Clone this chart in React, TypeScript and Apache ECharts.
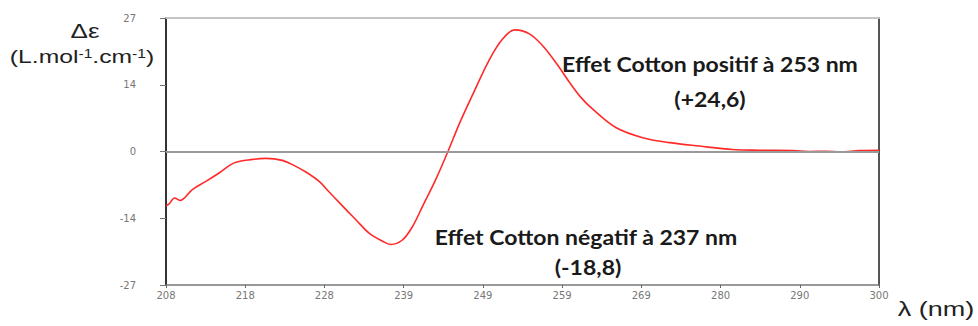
import React, { useEffect, useRef } from "react";
import * as echarts from "echarts";

const wavelengths = [
  208, 208.4, 209.1, 209.8, 211.4, 213.2, 214.9, 216.8, 219.2, 220.9, 223.0,
  224.5, 226.1, 227.8, 229.0, 230.4, 231.5, 232.5, 234.2, 236.0, 237.0, 238.5,
  239.8, 241.1, 242.8, 244.3, 245.9, 247.6, 249.7, 251.4, 253.0, 254.9, 256.6,
  258.3, 260.1, 261.5, 263.1, 266.1, 269.5, 273.0, 276.8, 281.1, 284.6, 288.9,
  291.0, 293.2, 295.0, 297.5, 300,
];
const deltaEpsilon = [
  -11.0, -10.6, -9.4, -9.9, -7.7, -6.0, -4.3, -2.3, -1.6, -1.4, -1.8, -2.8,
  -4.2, -6.1, -8.1, -10.4, -12.2, -13.8, -16.5, -18.2, -18.8, -17.9, -15.2,
  -11.1, -5.7, -0.3, 5.8, 11.6, 18.5, 22.7, 24.6, 23.8, 21.4, 18.0, 13.9, 11.0,
  8.5, 4.8, 2.8, 1.8, 1.1, 0.4, 0.26, 0.2, 0.0, 0.06, -0.1, 0.2, 0.26,
];

const xTickValues = [208, 218.22, 228.44, 238.67, 248.89, 259.11, 269.33, 279.56, 289.78, 300];
const xTickLabels = ["208", "218", "228", "239", "249", "259", "269", "280", "290", "300"];
const yTickValues = [-27, -13.5, 0, 13.5, 27];
const yTickLabels = ["-27", "-14", "0", "14", "27"];

const positiveNote = "Effet Cotton positif à 253 nm";
const positiveValue = "(+24,6)";
const negativeNote = "Effet Cotton négatif à 237 nm";
const negativeValue = "(-18,8)";

function nearestIndex(values: number[], v: number) {
  let best = 0;
  for (let i = 1; i < values.length; i++) {
    if (Math.abs(values[i] - v) < Math.abs(values[best] - v)) best = i;
  }
  return best;
}

export default function App() {
  const ref = useRef<HTMLDivElement>(null);
  useEffect(() => {
    if (!ref.current) return;
    const chart = echarts.init(ref.current, null, { renderer: "svg" });
    const data = wavelengths.map((w, i) => [w, deltaEpsilon[i]]);
    const noteStyle = {
      fontFamily: "Lato",
      fontWeight: "bold" as const,
      fontSize: 20,
      fill: "#1a1a1a",
      align: "center" as const,
      verticalAlign: "middle" as const,
    };
    const labelStyle = {
      fontFamily: "Liberation Sans",
      fontSize: 20,
      fill: "#222",
      align: "center" as const,
      verticalAlign: "middle" as const,
    };
    chart.setOption({
      animation: false,
      backgroundColor: "#fff",
      grid: {
        left: 166,
        right: 99,
        top: 18,
        bottom: 41,
        containLabel: false,
        outerBoundsMode: "none",
      },
      xAxis: [
        {
          type: "value",
          min: 208,
          max: 300,
          axisLine: { show: true, onZero: false, lineStyle: { color: "#777", width: 1.5 } },
          axisTick: {
            show: true,
            length: 3,
            customValues: xTickValues,
            lineStyle: { color: "#666" },
          },
          axisLabel: {
            show: true,
            customValues: xTickValues,
            formatter: (v: number) => xTickLabels[nearestIndex(xTickValues, v)],
            color: "#777",
            fontSize: 10,
            fontFamily: "DejaVu Sans",
            margin: 5,
          },
          splitLine: { show: false },
        },
        {
          type: "value",
          position: "top",
          min: 208,
          max: 300,
          axisLine: { show: true, onZero: false, lineStyle: { color: "#c4c4c4", width: 2 } },
          axisTick: { show: false },
          axisLabel: { show: false },
          splitLine: { show: false },
        },
      ],
      yAxis: [
        {
          type: "value",
          min: -27,
          max: 27,
          interval: 13.5,
          axisLine: { show: true, onZero: false, lineStyle: { color: "#333", width: 2 } },
          axisTick: { show: true, length: 6, lineStyle: { color: "#777" } },
          axisLabel: {
            formatter: (v: number) => yTickLabels[nearestIndex(yTickValues, v)],
            color: "#777",
            fontSize: 10,
            fontFamily: "DejaVu Sans",
            margin: 30,
          },
          splitLine: { show: false },
        },
        {
          type: "value",
          position: "right",
          min: -27,
          max: 27,
          axisLine: { show: true, onZero: false, lineStyle: { color: "#555", width: 2 } },
          axisTick: { show: false },
          axisLabel: { show: false },
          splitLine: { show: false },
        },
      ],
      series: [
        {
          type: "line",
          data,
          xAxisIndex: 0,
          yAxisIndex: 0,
          smooth: 0.35,
          showSymbol: false,
          lineStyle: { color: "#ff2a2a", width: 1.6 },
          markLine: {
            silent: true,
            symbol: "none",
            label: { show: false },
            lineStyle: { color: "#9a9a9a", width: 2, type: "solid" },
            data: [{ yAxis: 0 }],
          },
          z: 3,
        },
      ],
      graphic: [
        { type: "text", x: 85, y: 31, scaleX: 1.3, style: { ...labelStyle, text: "Δε" } },
        {
          type: "text",
          x: 82,
          y: 57,
          scaleX: 1.3,
          style: {
            ...labelStyle,
            fontSize: 19,
            text: "(L.mol{sup|-1}.cm{sup|-1})",
            rich: {
              sup: {
                fontFamily: "Liberation Sans",
                fontSize: 12,
                fill: "#222",
                verticalAlign: "top",
              },
            },
          },
        },
        { type: "text", x: 936, y: 309, scaleX: 1.35, style: { ...labelStyle, text: "λ (nm)" } },
        { type: "text", x: 710, y: 65, scaleX: 1.15, style: { ...noteStyle, text: positiveNote } },
        { type: "text", x: 710, y: 100, scaleX: 1.15, style: { ...noteStyle, text: positiveValue } },
        { type: "text", x: 586, y: 238, scaleX: 1.15, style: { ...noteStyle, text: negativeNote } },
        { type: "text", x: 588, y: 268, scaleX: 1.15, style: { ...noteStyle, text: negativeValue } },
      ],
    });
    return () => chart.dispose();
  }, []);
  return (
    <div
      ref={ref}
      style={{ position: "fixed", left: 0, top: 0, width: 978, height: 326 }}
    />
  );
}
